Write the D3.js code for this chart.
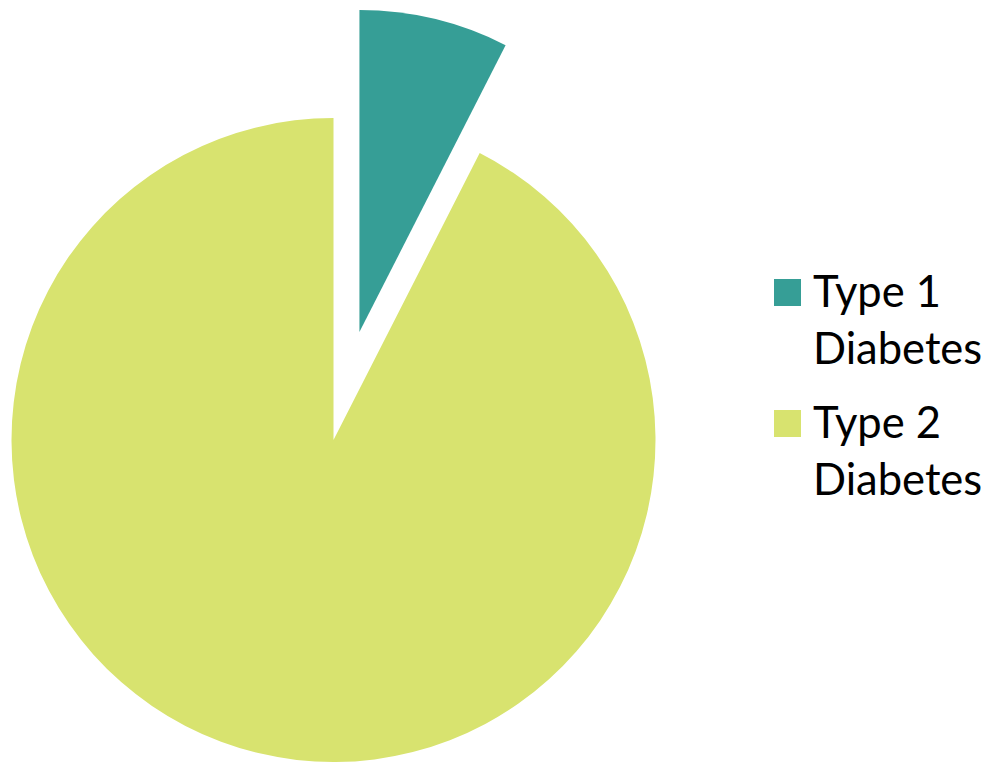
<!DOCTYPE html>
<html>
<head>
<meta charset="utf-8">
<script src="https://cdn.jsdelivr.net/npm/d3@7"></script>
<style>
  body { margin: 0; background: #fff; }
</style>
</head>
<body>
<div id="chart"></div>
<script>
// data
var categories = ["Type 1 Diabetes", "Type 2 Diabetes"];
var shares = [7.5, 92.5];
var legendLines = [["Type 1", "Diabetes"], ["Type 2", "Diabetes"]];

var colors = ["#369e96", "#d8e36f"];

var svgWidth = 990;
var svgHeight = 764;

var cx = 333.5;
var cy = 440;
var radius = 322;
var explode = 111;

var svg = d3.select("#chart")
	.append("svg")
	.attr("width", svgWidth)
	.attr("height", svgHeight);

var color = d3.scaleOrdinal()
	.domain(categories)
	.range(colors);

var pie = d3.pie()
	.sort(null)
	.value(d => d.value);

var arc = d3.arc()
	.innerRadius(0)
	.outerRadius(radius);

var slices = categories.map((c, i) => ({ name: c, value: shares[i] }));

var pieGroup = svg.append("g")
	.attr("transform", `translate(${cx}, ${cy})`);

pieGroup.selectAll("path")
	.data(pie(slices))
	.enter()
	.append("path")
	.attr("d", arc)
	.attr("fill", d => color(d.data.name))
	.attr("transform", function (d, i) {
		// pull the first slice out along its bisector
		if (i !== 0) return null;
		var mid = (d.startAngle + d.endAngle) / 2;
		return `translate(${Math.sin(mid) * explode}, ${-Math.cos(mid) * explode})`;
	});

// legend
var legend = svg.append("g")
	.attr("transform", "translate(774, 279)");

var items = legend.selectAll("g")
	.data(categories)
	.enter()
	.append("g")
	.attr("transform", (d, i) => `translate(0, ${i * 131})`);

items.append("rect")
	.attr("width", 27)
	.attr("height", 27)
	.attr("fill", d => color(d));

items.append("text")
	.attr("x", 39)
	.attr("y", 28)
	.attr("font-family", "Lato, 'Open Sans', sans-serif")
	.attr("font-size", 43.5)
	.attr("fill", "#000")
	.selectAll("tspan")
	.data((d, i) => legendLines[i])
	.enter()
	.append("tspan")
	.attr("x", 39)
	.attr("dy", (d, j) => j === 0 ? 0 : 57)
	.text(d => d);
</script>
</body>
</html>
